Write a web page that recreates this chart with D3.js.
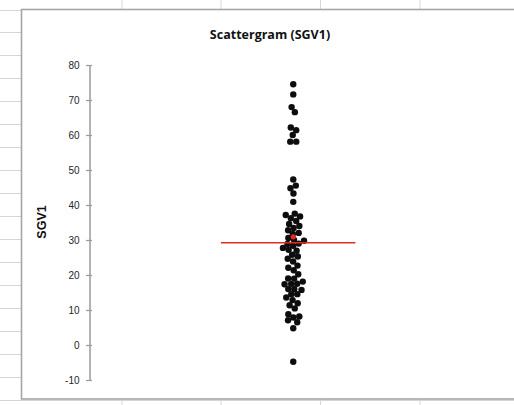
<!DOCTYPE html>
<html><head><meta charset="utf-8">
<script src="https://cdn.jsdelivr.net/npm/d3@7"></script>
<style>html,body{margin:0;padding:0;background:#fff;overflow:hidden}</style>
</head><body>
<svg id="c" width="514" height="405"></svg>
<script>
// ---- data ----
const title = "Scattergram (SGV1)";
const yLabel = "SGV1";
const yTicks = [-10, 0, 10, 20, 30, 40, 50, 60, 70, 80];
const sgv1 = [74.5, 71.6, 67.8, 66.7, 62.1, 61.4, 60.0, 58.1, 58.1,
  47.3, 45.5, 44.8, 43.3, 40.9,
  37.2, 37.0, 36.8, 36.3, 35.5, 34.8, 34.0, 33.5, 32.8, 32.0, 31.5, 30.6, 30.0, 29.6,
  29.0, 28.7, 28.4, 28.0, 27.3, 26.7, 26.0, 25.5, 24.6, 23.8, 22.8, 22.0, 21.3, 20.3,
  19.0, 18.5, 18.0, 17.7, 17.3, 17.0, 16.5, 16.0, 15.5, 15.0, 14.3, 13.7, 12.9, 12.0,
  11.4, 10.5, 8.6, 8.0, 7.7, 7.2, 6.8, 4.8, -4.8];
const meanValue = 29.2;
const meanLineX = [0.645, 1.305];
const markerValue = 30.9;
const seriesX = 1;

// ---- layout ----
const svg = d3.select("#c");
const W = 514, H = 405;
const plot = {left: 89.5, right: 497, top: 65, bottom: 380};
const y = d3.scaleLinear().domain([-10, 80]).range([plot.bottom, plot.top]);
const x = d3.scaleLinear().domain([0, 2]).range([plot.left, plot.right]);

// spreadsheet background grid
const grid = svg.append("g").attr("stroke", "#d6d6d6").attr("stroke-width", 1);
[122, 221, 320.5, 420].forEach(gx => {
  grid.append("line").attr("x1", gx).attr("x2", gx).attr("y1", 0).attr("y2", H);
});
d3.range(9.5, H, 22.95).forEach(gy => {
  grid.append("line").attr("x1", 0).attr("x2", W).attr("y1", Math.round(gy) + 0.5).attr("y2", Math.round(gy) + 0.5);
});

// chart area
svg.append("rect").attr("x", 21.5).attr("y", 9.5).attr("width", 520).attr("height", 389.5)
  .attr("fill", "#fff").attr("stroke", "#a6a6a6").attr("stroke-width", 1.6);

// title
svg.append("text").attr("x", 270).attr("y", 39).attr("text-anchor", "middle")
  .attr("font-family", "Open Sans, Liberation Sans, sans-serif").attr("font-weight", "bold")
  .attr("font-size", 12.5).attr("fill", "#111").text(title);

// y axis label
svg.append("text").attr("transform", "translate(46,222) rotate(-90)").attr("text-anchor", "middle")
  .attr("font-family", "Liberation Sans, Arial, sans-serif").attr("font-weight", "bold")
  .attr("font-size", 12.5).attr("fill", "#111").text(yLabel);

// y axis
const axis = d3.axisLeft(y).tickValues(yTicks).tickSize(0).tickPadding(10).tickFormat(d => String(d));
const ag = svg.append("g").attr("transform", `translate(${plot.left},0)`).call(axis);
ag.select(".domain").attr("stroke", "#9a9a9a").attr("stroke-width", 1.5);
ag.selectAll(".tick text").attr("font-family", "Liberation Sans, Arial, sans-serif")
  .attr("font-size", 10).attr("fill", "#262626");
ag.selectAll(".tick").append("line").attr("x1", -3.5).attr("x2", 2.5)
  .attr("stroke", "#9a9a9a").attr("stroke-width", 1.2);

// beeswarm layout for points
const nodes = sgv1.map(v => ({v, x: x(seriesX), y: y(v)}));
const sim = d3.forceSimulation(nodes)
  .force("x", d3.forceX(x(seriesX)).strength(0.1))
  .force("y", d3.forceY(d => y(d.v)).strength(1))
  .force("collide", d3.forceCollide(3.0))
  .stop();
for (let i = 0; i < 300; i++) sim.tick();

const defs = svg.append("defs");
defs.append("filter").attr("id", "soft").append("feGaussianBlur").attr("stdDeviation", 0.5);

// points
svg.append("g").attr("filter", "url(#soft)").selectAll("circle").data(nodes).join("circle")
  .attr("cx", d => d.x).attr("cy", d => d.y).attr("r", 3.2)
  .attr("fill", "#0d0d0d");

// mean line
svg.append("line").attr("x1", x(meanLineX[0])).attr("x2", x(meanLineX[1]))
  .attr("y1", y(meanValue)).attr("y2", y(meanValue))
  .attr("stroke", "#e8281e").attr("stroke-width", 1.6);

// red marker
svg.append("circle").attr("cx", x(seriesX)).attr("cy", y(markerValue)).attr("r", 2.6)
  .attr("fill", "#e8281e");
</script>
</body></html>
